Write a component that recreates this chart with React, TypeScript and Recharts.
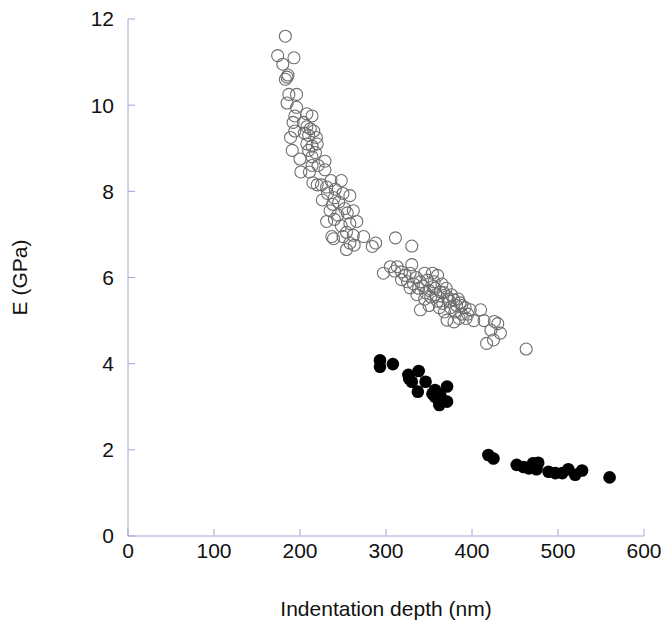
import React from 'react';
import { ScatterChart, Scatter, XAxis, YAxis } from 'recharts';

// Open circles: [depth (nm), E (GPa)]
const openDepth = [
  183, 174, 193, 180, 186, 183, 185, 187, 196, 185, 196, 194, 208, 214, 192, 204, 208, 212, 194, 205,
  210, 216, 219, 189, 208, 214, 220, 191, 210, 218, 200, 214, 229, 214, 221, 201, 211, 229, 215, 225,
  236, 248, 231, 241, 220, 232, 240, 250, 258, 226, 238, 245, 252, 235, 244, 255, 262, 231, 240, 248,
  258, 266, 237, 239, 250, 254, 262, 258, 254, 263, 274, 284, 288, 311, 330,
  297, 305, 313, 318, 322, 330, 328, 335, 340, 345, 354, 360, 332, 338, 328, 348, 343, 350, 355, 358,
  363, 365, 370, 372, 371, 376, 379, 382, 386, 380, 375, 388, 393, 340, 360, 366, 368, 371, 379, 385,
  398, 410, 414, 426, 422, 433, 417, 425, 430, 463, 345, 350, 336, 356, 362, 384, 392, 402, 318, 325,
  310, 352, 367, 374, 388, 395, 357, 346
];
const openE = [
  11.6, 11.15, 11.1, 10.95, 10.7, 10.6, 10.65, 10.25, 10.25, 10.05, 9.95, 9.75, 9.8, 9.75, 9.6, 9.6, 9.5, 9.45, 9.4, 9.35,
  9.3, 9.4, 9.25, 9.25, 9.1, 9.05, 9.1, 8.95, 8.95, 8.9, 8.75, 8.8, 8.7, 8.6, 8.6, 8.45, 8.45, 8.5, 8.2, 8.15,
  8.25, 8.25, 8.1, 8.05, 8.15, 7.95, 7.85, 7.95, 7.9, 7.8, 7.7, 7.75, 7.6, 7.55, 7.45, 7.5, 7.55, 7.3, 7.35, 7.2,
  7.25, 7.3, 6.95, 6.9, 6.95, 7.05, 6.98, 6.8, 6.65, 6.75, 6.95, 6.72, 6.8, 6.92, 6.73,
  6.1, 6.25, 6.25, 6.13, 6.05, 6.3, 6.1, 6.0, 5.9, 6.1, 6.1, 6.05, 5.85, 5.75, 5.76, 5.94, 5.8, 5.7, 5.79, 5.6,
  5.67, 5.85, 5.75, 5.5, 5.56, 5.6, 5.48, 5.35, 5.41, 5.2, 5.3, 5.15, 5.05, 5.25, 5.45, 5.4, 5.2, 5.01, 4.97, 5.05,
  5.25, 5.25, 5.0, 4.98, 4.78, 4.71, 4.47, 4.55, 4.93, 4.34, 5.5, 5.35, 5.6, 5.9, 5.3, 5.5, 5.3, 5.0, 5.95, 5.9,
  6.15, 5.55, 5.65, 5.45, 5.35, 5.15, 5.75, 5.65
];

// Filled circles
const filledDepth = [
  293, 293, 308, 326, 338, 330, 346, 327, 337, 357, 371, 357, 363, 371, 362, 354,
  419, 425, 452, 460, 471, 477, 466, 475, 489, 497, 505, 512, 520, 528, 560
];
const filledE = [
  4.08, 3.93, 3.99, 3.74, 3.83, 3.58, 3.58, 3.65, 3.35, 3.39, 3.47, 3.23, 3.27, 3.12, 3.04, 3.3,
  1.88, 1.8, 1.65, 1.6, 1.69, 1.7, 1.57, 1.55, 1.49, 1.46, 1.46, 1.55, 1.42, 1.52, 1.36
];

const xTicks = [0, 100, 200, 300, 400, 500, 600];
const yTicks = [0, 2, 4, 6, 8, 10, 12];

const openData = openDepth.map((x, i) => ({ x, y: openE[i] }));
const filledData = filledDepth.map((x, i) => ({ x, y: filledE[i] }));

const FRAME = '#a4a4d6';
const FONT = 'Liberation Sans, Arial, sans-serif';

const OpenShape = (p: any) => (
  <circle cx={p.cx} cy={p.cy} r={6} fill="none" stroke="#6e6e6e" strokeWidth={1.1} />
);
const FilledShape = (p: any) => <circle cx={p.cx} cy={p.cy} r={6.3} fill="#000" />;

const XLabel = (props: any) => {
  const vb = props.viewBox;
  return (
    <text x={vb.x + vb.width / 2} y={vb.y + 80} textAnchor="middle" fontSize={21} fontFamily={FONT} fill="#111">
      Indentation depth (nm)
    </text>
  );
};
const YLabel = (props: any) => {
  const vb = props.viewBox;
  const cx = vb.x + 11;
  const cy = vb.y + vb.height / 2;
  return (
    <text
      x={cx}
      y={cy}
      transform={`rotate(-90, ${cx}, ${cy})`}
      textAnchor="middle"
      dominantBaseline="central"
      fontSize={21}
      fontFamily={FONT}
      fill="#111"
    >
      E (GPa)
    </text>
  );
};

const tickStyle = { fontSize: 21, fontFamily: FONT, fill: '#111' };

export default function App() {
  return (
    <ScatterChart width={656} height={616} margin={{ top: 11, right: 20, bottom: 0, left: 0 }}>
      <XAxis
        xAxisId="b"
        dataKey="x"
        type="number"
        domain={[0, 600]}
        ticks={xTicks}
        orientation="bottom"
        height={88}
        stroke={FRAME}
        tickSize={-7}
        tickMargin={14}
        tick={tickStyle}
        interval={0}
        label={<XLabel />}
      />
      <XAxis
        xAxisId="t"
        dataKey="x"
        type="number"
        domain={[0, 600]}
        ticks={xTicks}
        orientation="top"
        height={0}
        stroke={FRAME}
        tickSize={-7}
        tickFormatter={() => ''}
      />
      <YAxis
        yAxisId="l"
        dataKey="y"
        type="number"
        domain={[0, 12]}
        ticks={yTicks}
        orientation="left"
        width={120}
        stroke={FRAME}
        tickSize={-7}
        tickMargin={21}
        tick={tickStyle}
        interval={0}
        label={<YLabel />}
      />
      <YAxis
        yAxisId="r"
        dataKey="y"
        type="number"
        domain={[0, 12]}
        ticks={yTicks}
        orientation="right"
        width={0}
        stroke={FRAME}
        tickSize={-7}
        tickFormatter={() => ''}
      />
      <Scatter xAxisId="b" yAxisId="l" data={openData} shape={OpenShape} isAnimationActive={false} />
      <Scatter xAxisId="b" yAxisId="l" data={filledData} shape={FilledShape} isAnimationActive={false} />
    </ScatterChart>
  );
}
